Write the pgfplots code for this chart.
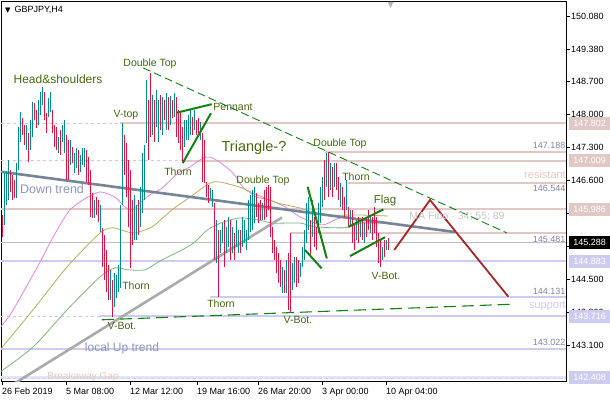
\documentclass[border=0pt]{standalone}
\usepackage{fontspec}
\setmainfont{Liberation Sans}
\newfontfamily\symfont{DejaVu Sans}
\usepackage{pgfplots}
\usepackage{pgfplotstable}
\pgfplotsset{compat=1.18}

\newcommand\ft[1]{\fontsize{#1}{#1}\selectfont}

\definecolor{upbar}{RGB}{0,139,139}
\definecolor{dnbar}{RGB}{225,20,65}
\definecolor{resline}{RGB}{224,200,196}
\definecolor{resdash}{RGB}{232,192,205}
\definecolor{supline}{RGB}{204,204,240}
\definecolor{gapline}{RGB}{228,228,248}
\definecolor{patgreen}{RGB}{20,128,20}
\definecolor{annot}{RGB}{70,105,15}
\definecolor{maA}{RGB}{222,135,222}
\definecolor{maB}{RGB}{185,175,95}
\definecolor{maC}{RGB}{130,180,125}
\definecolor{downtr}{RGB}{118,132,150}
\definecolor{uptr}{RGB}{170,170,170}
\definecolor{proj}{RGB}{165,40,40}
\definecolor{pricegray}{RGB}{130,130,165}
\definecolor{trendtxt}{RGB}{140,152,185}

% GBPJPY H4 bars: index, low, high
\pgfplotstableread{
i lo hi
2 145.65 146.75
3 146.07 146.77
4 146.18 147.03
8 146.22 146.96
9 146.82 147.73
10 147.41 148.04
13 147.24 147.77
15 147.24 147.88
16 147.51 148.26
19 147.77 148.30
20 147.98 148.47
21 148.19 148.57
24 147.94 148.34
25 148.04 148.47
29 147.18 147.51
31 147.41 147.77
32 147.18 147.88
35 146.92 147.45
37 146.75 147.18
38 146.86 147.28
40 146.77 147.13
41 146.92 147.28
42 146.88 147.28
47 145.80 146.18
50 145.50 146.07
55 144.06 144.70
57 143.91 144.63
58 144.10 144.59
59 144.23 144.80
60 144.31 146.07
61 146.07 147.81
67 145.33 146.29
68 145.33 146.07
70 145.61 146.45
71 145.90 147.18
72 146.18 147.35
73 147.39 148.72
76 147.56 148.41
78 147.73 148.51
79 147.41 148.30
81 147.56 148.36
83 147.66 148.45
85 147.77 148.38
87 147.94 148.45
92 147.30 147.88
93 147.45 147.88
94 147.45 147.98
95 147.56 148.09
97 147.66 148.09
100 147.45 147.83
105 146.22 146.43
106 146.03 146.39
108 144.84 145.76
110 145.06 145.54
111 145.27 145.69
113 145.06 145.61
114 145.18 145.82
116 145.06 145.61
118 145.18 145.76
119 145.06 145.54
121 145.18 145.82
122 145.27 145.76
123 145.12 145.54
124 145.33 146.18
125 145.50 146.29
126 145.54 146.39
127 145.69 146.45
131 145.76 146.12
141 144.21 144.76
143 144.21 144.91
146 144.27 144.84
147 144.42 144.97
150 144.55 144.84
151 144.76 145.18
152 144.91 145.54
153 145.27 146.12
154 145.54 146.24
156 145.40 146.18
159 145.48 146.12
160 145.69 146.45
161 146.03 146.67
163 146.45 147.18
165 146.39 146.96
167 146.45 146.96
170 146.03 146.54
173 145.97 146.60
175 145.61 145.97
178 145.33 145.76
180 145.40 145.76
182 145.27 145.69
185 145.48 145.82
191 144.91 145.18
193 145.12 145.33
}\upbars

\pgfplotstableread{
i lo hi
1 145.40 145.86
5 146.35 146.82
6 146.18 146.71
7 146.22 146.60
11 147.56 147.92
12 147.35 147.77
14 146.98 147.60
17 147.88 148.24
18 147.70 148.09
22 147.88 148.47
23 147.60 148.02
26 147.60 148.09
27 147.30 147.77
28 147.24 147.73
30 147.13 147.66
33 146.60 147.56
34 146.60 147.45
36 146.96 147.30
39 146.71 147.24
43 146.56 147.24
44 146.50 147.09
45 145.82 146.82
46 145.80 146.33
48 145.86 146.24
49 145.71 146.18
51 144.76 145.59
52 144.48 145.44
53 144.23 145.12
54 144.06 144.80
56 143.70 144.48
62 146.71 147.56
63 146.24 147.39
64 145.61 147.03
65 144.74 146.82
66 145.23 146.18
69 145.44 146.18
74 147.03 148.30
75 147.51 148.87
77 147.41 148.30
80 147.66 148.41
82 147.88 148.30
84 147.66 148.36
86 147.92 148.30
88 147.51 148.36
89 147.39 148.09
90 147.24 148.02
91 146.98 147.73
96 147.56 147.94
98 147.56 147.88
99 147.60 147.92
101 146.56 147.60
102 146.54 147.45
103 146.24 146.56
104 146.12 146.50
107 144.91 146.12
109 144.12 145.54
112 144.76 145.76
115 144.91 145.76
117 144.91 145.48
120 145.06 145.54
128 145.82 146.33
129 145.69 146.12
130 145.76 146.18
132 145.76 146.39
133 145.82 146.45
134 145.97 146.50
135 145.40 146.45
136 145.06 145.61
137 144.91 145.33
138 144.63 145.18
139 144.42 145.06
140 144.34 144.91
142 144.21 144.70
144 143.85 145.06
145 143.81 145.48
148 144.34 144.97
149 144.42 144.91
155 144.97 145.76
157 145.18 145.82
158 145.12 145.61
162 146.18 147.03
164 146.24 147.20
166 146.24 146.88
168 146.39 146.96
169 146.18 146.67
171 145.97 146.45
172 145.82 146.24
174 145.61 146.03
176 145.27 145.97
177 145.12 145.69
179 145.27 145.82
181 145.33 145.82
183 145.40 145.82
184 145.54 145.97
186 145.33 145.82
187 145.48 146.03
188 145.18 145.82
189 144.84 145.48
190 144.76 145.33
192 144.97 145.33
194 145.12 145.37
}\dnbars

\begin{document}
\begin{tikzpicture}
\fill[white] (-1pt,-19pt) rectangle (609pt,381pt);
\useasboundingbox (-1pt,-19pt) rectangle (609pt,381pt);
\begin{axis}[
  at={(0pt,0pt)}, anchor=south west,
  scale only axis, width=565pt, height=380pt,
  xmin=0.5, xmax=283, ymin=142.342, ymax=150.398,
  clip mode=individual,
  axis line style={black, line width=0.8pt},
  tick align=outside, major tick length=4pt,
  tick style={black, line width=0.6pt},
  xtick pos=bottom, ytick pos=right, yticklabel pos=right,
  xtick={1,33,65,98.5,129,161,193},
  xticklabels={26 Feb 2019, 5 Mar 08:00, 12 Mar 12:00, 19 Mar 16:00, 26 Mar 20:00, 3 Apr 00:00, 10 Apr 04:00},
  ytick={150.08,149.38,148.70,148.00,147.30,146.60,145.90,145.20,144.50,143.80,143.10},
  yticklabels={150.080,149.380,148.700,148.000,147.300,146.600,145.900,145.200,144.500,143.800,143.100},
  xticklabel style={anchor=north west, inner sep=1pt, xshift=-1pt, yshift=-2pt, font=\ft{9}},
  yticklabel style={anchor=west, inner sep=1pt, font=\ft{9}},
  /pgf/number format/assume math mode=true,
]
% resistance levels
\addplot[resdash, line width=0.8pt, dash pattern=on 3pt off 3pt] coordinates {(0.5,147.802) (60,147.802)};
\addplot[resline, line width=2pt] coordinates {(60,147.802) (283,147.802)};
\addplot[resdash, line width=0.8pt, dash pattern=on 3pt off 3pt] coordinates {(0.5,147.009) (91.5,147.009)};
\addplot[resline, line width=2pt] coordinates {(91.5,147.009) (283,147.009)};
\addplot[resline, line width=2pt] coordinates {(162.5,147.188) (283,147.188)};
\addplot[resline, line width=2pt] coordinates {(174,146.544) (283,146.544)};
\addplot[resline, line width=2pt] coordinates {(0.5,145.986) (283,145.986)};
\addplot[resline, line width=2pt] coordinates {(145,145.481) (283,145.481)};
% current price
\addplot[black!25, line width=0.8pt] coordinates {(0.5,145.288) (283,145.288)};
% support levels
\addplot[supline, line width=2pt] coordinates {(0.5,144.883) (283,144.883)};
\addplot[supline, line width=2pt] coordinates {(105,144.131) (283,144.131)};
\addplot[supline, line width=0.8pt, dash pattern=on 3pt off 3pt] coordinates {(0.5,143.716) (50,143.716)};
\addplot[supline, line width=2pt] coordinates {(50,143.716) (283,143.716)};
\addplot[supline, line width=2pt] coordinates {(0.5,143.022) (283,143.022)};
\addplot[gapline, line width=3pt] coordinates {(0.5,142.408) (283,142.408)};
\addplot[supline, line width=0.6pt, dash pattern=on 3pt off 3pt] coordinates {(0.5,142.408) (283,142.408)};

% MA Fibo 34 / 55 / 89
\addplot[maA, line width=0.8pt, smooth, tension=0.4] coordinates {
 (0,143.47) (5,143.74) (10,144.10) (15,144.48) (20,144.86) (25,145.27) (30,145.65)
 (35,145.97) (41.5,146.18) (50,146.35) (57.5,146.24) (62.5,146.03) (66,145.97)
 (70,146.12) (75,146.29) (81,146.43) (89,146.75) (95,146.88) (101.5,147.07)
 (105,147.09) (110,146.98) (116.5,146.75) (121.5,146.45) (128.5,146.24)
 (135,146.18) (143.5,146.01) (150,145.82) (161,145.65) (167.5,145.76)
 (172.5,145.82) (177.5,145.76) (184,145.69) (194,145.71)};
\addplot[maB, line width=0.8pt, smooth, tension=0.4] coordinates {
 (0,143.00) (16.5,143.85) (33.5,144.76) (50,145.48) (56.5,145.59) (66.5,145.48)
 (76,145.61) (86,145.97) (95,146.24) (105,146.54) (110,146.56) (120,146.45)
 (128.5,146.29) (138.5,146.12) (150,146.01) (156,145.93) (164,145.86)
 (181,145.86) (194,145.84)};
\addplot[maC, line width=0.8pt, smooth, tension=0.4] coordinates {
 (0,142.53) (16.5,143.06) (33.5,143.85) (50,144.55) (57.5,144.74) (64,144.70)
 (72.5,144.70) (81,144.91) (91,145.12) (97.5,145.29) (103.5,145.54)
 (111.5,145.71) (120,145.80) (128.5,145.76) (136.5,145.69) (150,145.69)
 (157.5,145.61) (172.5,145.59) (181,145.69) (194,145.69)};

% trend lines
\addplot[downtr, line width=2.6pt] coordinates {(0,146.78) (227.5,145.50)};
\addplot[uptr, line width=2.6pt] coordinates {(0,142.10) (141,145.81)};

% price bars
\addplot[upbar, line width=0.8pt, quiver={u=0, v=\thisrow{hi}-\thisrow{lo}}] table[x=i, y=lo] {\upbars};
\addplot[dnbar, line width=0.8pt, quiver={u=0, v=\thisrow{hi}-\thisrow{lo}}] table[x=i, y=lo] {\dnbars};

% pattern lines
\addplot[patgreen, line width=0.9pt, dash pattern=on 8pt off 4pt] coordinates {(71.5,148.98) (253.5,145.48)};
\addplot[patgreen, line width=1.1pt, dash pattern=on 12pt off 6pt] coordinates {(51,143.64) (256,143.97)};
\addplot[patgreen, line width=2pt] coordinates {(88.35,148.03) (105.85,148.21)};
\addplot[patgreen, line width=2pt] coordinates {(91.35,146.96) (105.5,148.02)};
\addplot[patgreen, line width=2pt] coordinates {(153.8,146.46) (163.4,144.94)};
\addplot[patgreen, line width=2pt] coordinates {(152.5,145.12) (160.8,144.73)};
\addplot[patgreen, line width=2pt] coordinates {(174.2,145.61) (191.7,145.98)};
\addplot[patgreen, line width=2pt] coordinates {(175,144.99) (192.5,145.39)};
\addplot[proj, line width=1.8pt] coordinates {(197.15,145.12) (215,146.18) (254.15,144.13)};

% annotations
\tikzset{lbl/.style={text=annot, font=\ft{10.5}, inner sep=0pt}}
\node[lbl, font=\ft{12}] at (axis cs:29,148.74) {Head\&shoulders};
\node[lbl] at (axis cs:75,149.06) {Double Top};
\node[lbl] at (axis cs:63,147.98) {V-top};
\node[lbl] at (axis cs:116.5,148.15) {Pennant};
\node[lbl] at (axis cs:89,146.77) {Thorn};
\node[lbl, font=\ft{14.5}] at (axis cs:127,147.28) {Triangle-?};
\node[lbl] at (axis cs:131.5,146.58) {Double Top};
\node[lbl] at (axis cs:170,147.37) {Double Top};
\node[lbl] at (axis cs:178,146.67) {Thorn};
\node[lbl, font=\ft{11.5}] at (axis cs:192.5,146.16) {Flag};
\node[lbl] at (axis cs:68,144.36) {Thorn};
\node[lbl] at (axis cs:110.5,143.98) {Thorn};
\node[lbl] at (axis cs:61,143.51) {V-Bot.};
\node[lbl] at (axis cs:149,143.64) {V-Bot.};
\node[lbl] at (axis cs:193,144.57) {V-Bot.};
\node[text=black!22, font=\ft{10.5}, inner sep=0pt] at (axis cs:228.5,145.84) {MA Fibo - 34; 55; 89};
\node[text=trendtxt, font=\ft{12.5}, inner sep=0pt] at (axis cs:26,146.41) {Down trend};
\node[text=trendtxt, font=\ft{12}, inner sep=0pt] at (axis cs:61,143.04) {local Up trend};
\node[text=resline, font=\ft{10}, inner sep=0pt] at (axis cs:41.5,142.43) {Breakaway Gap};
\node[text=resline, font=\ft{11}, inner sep=0pt, anchor=east] at (axis cs:283,146.71) {resistant};
\node[text=supline, font=\ft{11}, inner sep=0pt, anchor=east] at (axis cs:283,143.93) {support};
\tikzset{pl/.style={text=pricegray, font=\ft{9}, inner sep=0pt, anchor=east, xshift=-0.5pt}}
\node[pl] at (axis cs:283,147.345) {147.188};
\node[pl] at (axis cs:283,146.43) {146.544};
\node[pl] at (axis cs:283,145.35) {145.481};
\node[pl] at (axis cs:283,144.25) {144.131};
\node[pl] at (axis cs:283,143.17) {143.022};
\node[anchor=west, inner sep=0pt, font=\ft{9}, xshift=4pt, yshift=-9pt] at (rel axis cs:0,1) {{\symfont\ft{7}▼}\hspace{4pt}GBPJPY,H4};
\node[text=black!30, inner sep=0pt, font=\symfont\ft{8}] at (axis cs:195.3,150.31) {▼};

% anchors for the price scale boxes
\coordinate (b1) at (axis cs:283,147.802);
\coordinate (b2) at (axis cs:283,147.009);
\coordinate (b3) at (axis cs:283,145.986);
\coordinate (b4) at (axis cs:283,145.288);
\coordinate (b5) at (axis cs:283,144.883);
\coordinate (b6) at (axis cs:283,143.716);
\coordinate (b7) at (axis cs:283,142.408);
\end{axis}
\tikzset{box/.style={anchor=west, xshift=3pt, inner sep=0pt, minimum width=41pt, minimum height=13pt, text=white, font=\ft{9}}}
\node[box, fill=resline] at (b1) {147.802};
\node[box, fill=resline] at (b2) {147.009};
\node[box, fill=resline] at (b3) {145.986};
\node[box, fill=black] at (b4) {145.288};
\node[box, fill=supline] at (b5) {144.883};
\node[box, fill=supline] at (b6) {143.716};
\node[box, fill=supline] at (b7) {142.408};
\end{tikzpicture}
\end{document}
